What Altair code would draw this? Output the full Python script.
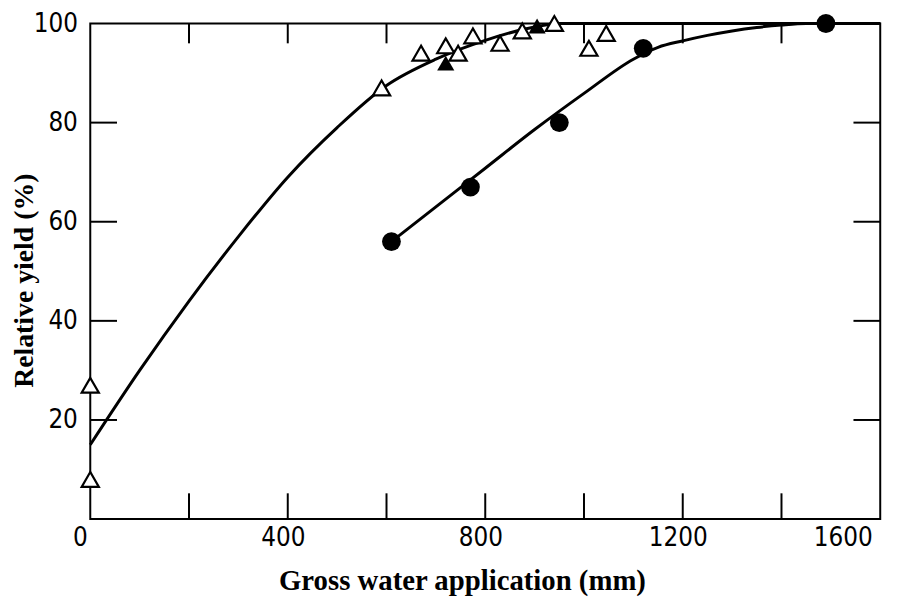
import altair as alt
import pandas as pd

# ---- data ----
tri_open_x = [0, 0, 590, 670, 720, 745, 775, 830, 875, 940, 1010, 1045]
tri_open_y = [27, 8, 87, 94, 95.5, 94, 97.5, 96, 98.5, 100, 95, 98]

tri_fill_x = [720, 905]
tri_fill_y = [92, 99.5]

circ_x = [610, 770, 950, 1120, 1490]
circ_y = [56, 67, 80, 95, 100]

curve_a_x = [0, 100, 200, 300, 400, 500, 600, 700, 800, 900, 950, 1600]
curve_a_y = [15, 30, 44, 57, 69, 79, 87.5, 92.8, 96.6, 99.3, 100, 100]

curve_b_x = [610, 700, 800, 900, 1000, 1100, 1150, 1200, 1250, 1300, 1350, 1400, 1450, 1600]
curve_b_y = [56, 63, 70.8, 78.6, 85.9, 92.8, 95.2, 96.5, 97.6, 98.5, 99.2, 99.7, 100, 100]

x_label_values = [0, 400, 800, 1200, 1600]
y_label_values = [20, 40, 60, 80, 100]
x_tick_values = [200, 400, 600, 800, 1000, 1200, 1400]
y_tick_values = [20, 40, 60, 80]

W, H = 797, 500
TICK_FONT = "Liberation Sans Narrow, DejaVu Sans Condensed, Liberation Sans"
TITLE_FONT = "Liberation Serif"

xscale = alt.Scale(domain=[0, 1600], nice=False, zero=False)
yscale = alt.Scale(domain=[0, 100], nice=False, zero=False)

df_a = pd.DataFrame({"x": curve_a_x, "y": curve_a_y})
df_b = pd.DataFrame({"x": curve_b_x, "y": curve_b_y})
df_to = pd.DataFrame({"x": tri_open_x, "y": tri_open_y})
df_tf = pd.DataFrame({"x": tri_fill_x, "y": tri_fill_y})
df_c = pd.DataFrame({"x": circ_x, "y": circ_y})
df_xt = pd.DataFrame({"x": x_tick_values})
df_yt = pd.DataFrame({"y": y_tick_values})

x_axis = alt.Axis(
    values=x_label_values, format="d", domain=False, ticks=False, grid=False,
    labelFont=TICK_FONT, labelFontSize=26, labelColor="black",
    labelBaseline="alphabetic", labelPadding=27,
    labelOffset={"condition": [{"test": "datum.value == 0", "value": -18},
                               {"test": "datum.value == 1600", "value": -8}],
                 "value": -5},
    title="Gross water application (mm)", titleFont=TITLE_FONT,
    titleFontWeight="bold", titleFontSize=29, titleColor="black",
    titleX=375, titleY=71, titleBaseline="alphabetic",
)
y_axis = alt.Axis(
    values=y_label_values, format="d", domain=False, ticks=False, grid=False,
    labelFont=TICK_FONT, labelFontSize=26, labelColor="black",
    labelBaseline="middle", labelPadding=13,
    title="Relative yield (%)", titleFont=TITLE_FONT,
    titleFontWeight="bold", titleFontSize=28, titleColor="black",
    titleX=-58, titleY=259, titleBaseline="alphabetic", titleAngle=270,
)

X = alt.X("x:Q", scale=xscale, axis=x_axis)
Y = alt.Y("y:Q", scale=yscale, axis=y_axis)
Xp = alt.X("x:Q", scale=xscale)
Yp = alt.Y("y:Q", scale=yscale)

line_a = alt.Chart(df_a).mark_line(color="black", strokeWidth=3, interpolate="monotone").encode(x=X, y=Y)
line_b = alt.Chart(df_b).mark_line(color="black", strokeWidth=3, interpolate="monotone").encode(x=Xp, y=Yp)

pts_open = alt.Chart(df_to).mark_point(
    shape="triangle-up", size=300, filled=True, fill="white", stroke="black",
    strokeWidth=2.2, opacity=1
).encode(x=Xp, y=Yp)
pts_fill = alt.Chart(df_tf).mark_point(
    shape="triangle-up", size=300, filled=True, color="black", opacity=1
).encode(x=Xp, y=Yp)
pts_circ = alt.Chart(df_c).mark_circle(size=360, color="black", opacity=1).encode(x=Xp, y=Yp)

tick_bottom = alt.Chart(df_xt).mark_rule(color="black", strokeWidth=2).encode(
    x=Xp, y=alt.value(H), y2=alt.value(H - 26))
tick_top = alt.Chart(df_xt).mark_rule(color="black", strokeWidth=2).encode(
    x=Xp, y=alt.value(0), y2=alt.value(20))
tick_left = alt.Chart(df_yt).mark_rule(color="black", strokeWidth=2).encode(
    y=Yp, x=alt.value(0), x2=alt.value(27))
tick_right = alt.Chart(df_yt).mark_rule(color="black", strokeWidth=2).encode(
    y=Yp, x=alt.value(W), x2=alt.value(W - 27))

chart = alt.layer(
    line_a, line_b, tick_bottom, tick_top, tick_left, tick_right,
    pts_open, pts_fill, pts_circ
).properties(
    width=W, height=H,
    autosize=alt.AutoSizeParams(type="none"),
    padding={"left": 83, "top": 13, "right": 26, "bottom": 80},
    background="white",
).configure_view(stroke="black", strokeWidth=2)

chart.save("out.html", embed_options={"renderer": "svg", "actions": False})
